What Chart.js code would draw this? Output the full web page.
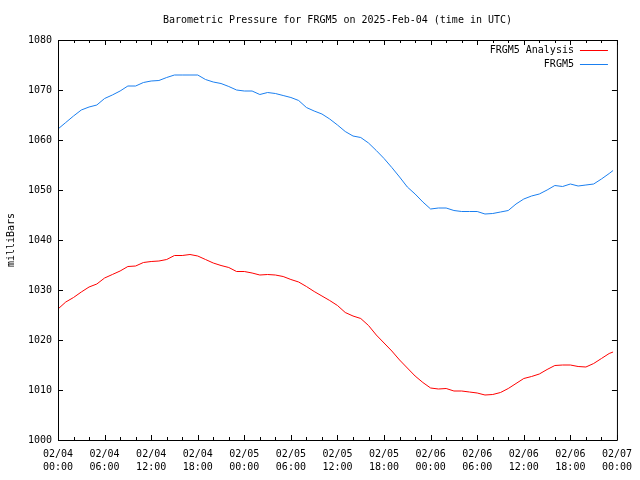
<!DOCTYPE html>
<html lang="en">

<head>
  <meta charset="UTF-8">
  <title>Barometric Pressure for FRGM5</title>
  <style>
    body {
      margin: 0;
      background-color: #ffffff;
    }

    #chart {
      display: block;
    }
  </style>
</head>

<body>
  <canvas id="chart" width="640" height="480"></canvas>

  <script src="https://cdn.jsdelivr.net/npm/chart.js"></script>

  <script>
    // hours since 02/04 00:00 UTC
    const hours = [
      0, 1, 2, 3, 4, 5, 6, 7, 8, 9, 10, 11, 12, 13, 14, 15, 16, 17, 18, 19, 20, 21, 22, 23,
      24, 25, 26, 27, 28, 29, 30, 31, 32, 33, 34, 35, 36, 37, 38, 39, 40, 41, 42, 43, 44, 45, 46, 47,
      48, 49, 50, 51, 52, 53, 54, 55, 56, 57, 58, 59, 60, 61, 62, 63, 64, 65, 66, 67, 68, 69, 70, 71, 71.5
    ];

    const analysis = [
      1026.2, 1027.6, 1028.5, 1029.6, 1030.6, 1031.2, 1032.4, 1033.1, 1033.8, 1034.7,
      1034.8, 1035.5, 1035.7, 1035.8, 1036.1, 1036.9, 1036.9, 1037.1, 1036.8, 1036.1,
      1035.4, 1034.9, 1034.5, 1033.7, 1033.7, 1033.4, 1033.0, 1033.1, 1033.0, 1032.7,
      1032.1, 1031.6, 1030.7, 1029.7, 1028.8, 1027.9, 1026.9, 1025.5, 1024.8, 1024.3,
      1022.9, 1021.0, 1019.4, 1017.8, 1016.0, 1014.4, 1012.8, 1011.5, 1010.4, 1010.2,
      1010.3, 1009.8, 1009.8, 1009.6, 1009.4, 1009.0, 1009.1, 1009.5, 1010.3, 1011.3,
      1012.3, 1012.7, 1013.2, 1014.1, 1014.9, 1015.0, 1015.0, 1014.7, 1014.6, 1015.3,
      1016.3, 1017.3, 1017.6
    ];

    const observed = [
      1062.2, 1063.5, 1064.8, 1066.0, 1066.6, 1067.0, 1068.3, 1069.0, 1069.8, 1070.8,
      1070.8, 1071.5, 1071.8, 1071.9, 1072.5, 1073.0, 1073.0, 1073.0, 1073.0, 1072.1,
      1071.6, 1071.3, 1070.7, 1070.0, 1069.8, 1069.8, 1069.1, 1069.5, 1069.3, 1068.9,
      1068.5, 1067.9, 1066.5, 1065.8, 1065.2, 1064.2, 1063.0, 1061.7, 1060.8, 1060.5,
      1059.4, 1057.9, 1056.3, 1054.5, 1052.6, 1050.6, 1049.2, 1047.6, 1046.2, 1046.4,
      1046.4, 1045.9, 1045.7, 1045.7, 1045.7, 1045.2, 1045.3, 1045.6, 1045.9, 1047.2,
      1048.2, 1048.8, 1049.2, 1050.0, 1050.9, 1050.7, 1051.2, 1050.8, 1051.0, 1051.2,
      1052.2, 1053.3, 1053.9
    ];

    const tickDates = ['02/04', '02/04', '02/04', '02/04', '02/05', '02/05', '02/05', '02/05',
      '02/06', '02/06', '02/06', '02/06', '02/07'];
    const tickTimes = ['00:00', '06:00', '12:00', '18:00', '00:00', '06:00', '12:00', '18:00',
      '00:00', '06:00', '12:00', '18:00', '00:00'];

    const seriesNames = ['FRGM5 Analysis', 'FRGM5'];
    const seriesColors = ['#ff0000', '#1a7ff0'];

    const mono = "'DejaVu Sans Mono', 'Liberation Mono', monospace";

    // gnuplot style frame with inward ticks on all four sides, plus the legend
    const framePlugin = {
      id: 'frame',
      afterDraw(chart) {
        const { ctx, chartArea: a, scales } = chart;
        const x = scales.x, y = scales.y;
        ctx.save();
        ctx.strokeStyle = '#000';
        ctx.lineWidth = 1;
        ctx.beginPath();
        ctx.rect(a.left + 0.5, a.top + 0.5, a.right - a.left, a.bottom - a.top);
        for (let h = 0; h <= 72; h += 2) {
          const px = Math.round(x.getPixelForValue(h)) + 0.5;
          const len = h % 6 === 0 ? 5 : 3;
          ctx.moveTo(px, a.bottom);
          ctx.lineTo(px, a.bottom - len);
          ctx.moveTo(px, a.top);
          ctx.lineTo(px, a.top + len);
        }
        for (let v = 1000; v <= 1080; v += 10) {
          const py = Math.round(y.getPixelForValue(v)) + 0.5;
          ctx.moveTo(a.left, py);
          ctx.lineTo(a.left + 5, py);
          ctx.moveTo(a.right, py);
          ctx.lineTo(a.right - 5, py);
        }
        ctx.stroke();

        // legend
        ctx.font = '10px ' + mono;
        ctx.textAlign = 'right';
        ctx.textBaseline = 'middle';
        seriesNames.forEach((name, i) => {
          const ly = a.top + 10 + i * 14;
          ctx.fillStyle = '#000';
          ctx.fillText(name, a.right - 43, ly);
          ctx.strokeStyle = seriesColors[i];
          ctx.beginPath();
          ctx.moveTo(a.right - 37, Math.round(ly) + 0.5);
          ctx.lineTo(a.right - 9, Math.round(ly) + 0.5);
          ctx.stroke();
        });
        ctx.restore();
      }
    };

    const ctx = document.getElementById('chart').getContext('2d');
    new Chart(ctx, {
      type: 'line',
      data: {
        datasets: [{
          label: seriesNames[0],
          data: hours.map((h, i) => ({ x: h, y: analysis[i] })),
          borderColor: seriesColors[0],
          borderWidth: 1,
          pointRadius: 0,
          tension: 0
        }, {
          label: seriesNames[1],
          data: hours.map((h, i) => ({ x: h, y: observed[i] })),
          borderColor: seriesColors[1],
          borderWidth: 1,
          pointRadius: 0,
          tension: 0
        }]
      },
      options: {
        responsive: false,
        animation: false,
        devicePixelRatio: 1,
        layout: { padding: { left: 0, right: 22, top: 0, bottom: 0 } },
        plugins: {
          legend: { display: false },
          tooltip: { enabled: false },
          title: {
            display: true,
            fullSize: false,
            text: 'Barometric Pressure for FRGM5 on 2025-Feb-04 (time in UTC)',
            color: '#000',
            font: { family: mono, size: 10, weight: 'normal', lineHeight: 1.2 },
            padding: { top: 14, bottom: 14 }
          }
        },
        scales: {
          x: {
            type: 'linear',
            min: 0,
            max: 72,
            grid: { display: false, drawTicks: false },
            border: { display: false },
            ticks: {
              stepSize: 6,
              autoSkip: false,
              maxRotation: 0,
              padding: 8,
              color: '#000',
              font: { family: mono, size: 10, lineHeight: 1.3 },
              callback: v => [tickDates[v / 6], tickTimes[v / 6]]
            },
            afterFit: s => { s.height = 40; }
          },
          y: {
            min: 1000,
            max: 1080,
            grid: { display: false, drawTicks: false },
            border: { display: false },
            ticks: {
              stepSize: 10,
              padding: 6,
              color: '#000',
              font: { family: mono, size: 10 },
              callback: v => String(v)
            },
            title: {
              display: true,
              text: 'milliBars',
              color: '#000',
              font: { family: mono, size: 10, lineHeight: 1.2 },
              padding: { top: 5, bottom: 0 }
            },
            afterFit: s => { s.width = 58; }
          }
        }
      },
      plugins: [framePlugin]
    });
  </script>
</body>

</html>
